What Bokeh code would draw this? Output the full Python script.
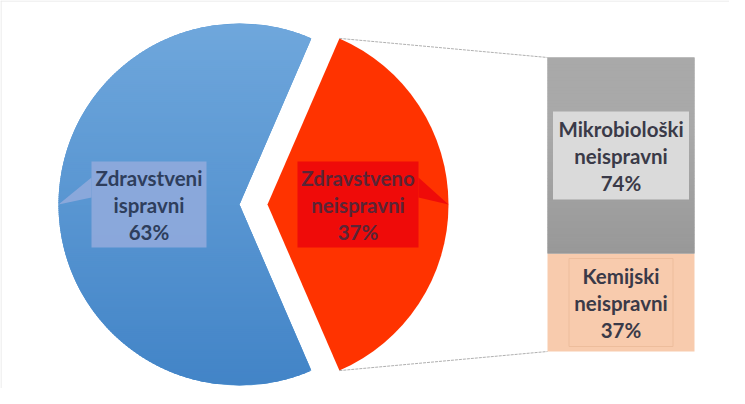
import math
from bokeh.plotting import figure
from bokeh.models import Range1d, Span
from bokeh.core.properties import value
from bokeh.embed import file_html
from bokeh.resources import INLINE

# ---------------- data ----------------
pie_categories = ["Zdravstveni ispravni", "Zdravstveno neispravni"]
pie_values = [63, 37]
pie_label_lines = [["Zdravstveni", "ispravni"], ["Zdravstveno", "neispravni"]]

bar_categories = ["Kemijski neispravni", "Mikrobiološki neispravni"]
bar_values = [37, 74]
bar_label_lines = [["Kemijski", "neispravni"], ["Mikrobiološki", "neispravni"]]

# ---------------- layout / style ----------------
W, H = 729, 388
PIE_CX, PIE_CY, PIE_R = 239, 184, 181
EXPLODE = 28
BAR_LEFT, BAR_RIGHT = 547, 694
BAR_Y0 = 37                 # data y of bar base
BAR_PX_PER_UNIT = 294 / 111

pie_colors = ["#5A9AD5", "#FF3300"]
blue_top, blue_bottom = (0x6F, 0xA7, 0xDC), (0x42, 0x84, 0xC7)
gray_top, gray_bottom = (0xA9, 0xA9, 0xA9), (0x98, 0x98, 0x98)
pie_box_colors = ["#8DA9DB", "#EE0A0A"]
pie_text_colors = ["#2E3E5C", "#5A2536"]
pie_box_w = [115, 121]
bar_colors = ["#F8CBAD", "#A3A3A3"]
bar_box_colors = ["#F8CBAD", "#DADADA"]
bar_box_lines = ["#EDBD9C", None]
bar_box_w = [104, 136]
bar_text_color = "#3A3A48"
FONT = "Lato"
FS = "20.5px"
LINE_GAP = 27


def mix(c0, c1, t):
    return "#%02x%02x%02x" % tuple(int(round(a + (b - a) * t)) for a, b in zip(c0, c1))


p = figure(width=W, height=H, x_range=Range1d(0, W), y_range=Range1d(0, H),
           output_backend="svg", toolbar_location=None, min_border=0,
           x_axis_location=None, y_axis_location=None)
p.grid.visible = False
p.outline_line_color = None
p.background_fill_color = "white"
p.border_fill_color = "white"

# bar scale as an extra range
p.extra_y_ranges = {"bar": Range1d(-BAR_Y0 / BAR_PX_PER_UNIT, (H - BAR_Y0) / BAR_PX_PER_UNIT)}

# faint chart border (top / left)
p.add_layout(Span(location=0.5, dimension="height", line_color="#E6E6E6", line_width=1))
p.add_layout(Span(location=H - 0.5, dimension="width", line_color="#E6E6E6", line_width=1))

# ---------------- pie ----------------
total = sum(pie_values)
half_red = pie_values[1] / total * math.pi
wedges = [
    dict(cx=PIE_CX, start=half_red, end=2 * math.pi - half_red, mid=math.pi),
    dict(cx=PIE_CX + EXPLODE, start=-half_red, end=half_red, mid=0.0),
]
for i, w in enumerate(wedges):
    p.wedge(x=[w["cx"]], y=[PIE_CY], radius=PIE_R, start_angle=[w["start"]], end_angle=[w["end"]],
            fill_color=pie_colors[i], line_color=None)

# vertical gradient shading over the blue slice (bands clipped to the slice shape)
tan_h = math.tan(half_red)


def left_x(dy):
    return -math.sqrt(max(PIE_R ** 2 - dy ** 2, 0.0))


def right_x(dy):
    return min(math.sqrt(max(PIE_R ** 2 - dy ** 2, 0.0)), abs(dy) / tan_h)


NB = 180
xs, ys, cols = [], [], []
for k in range(NB):
    y0 = -PIE_R + 2 * PIE_R * k / NB
    y1 = -PIE_R + 2 * PIE_R * (k + 1) / NB
    a = max(-PIE_R, y0 - 0.45) if abs(y0) > 1e-9 else y0
    b = min(PIE_R, y1 + 0.45) if abs(y1) > 1e-9 else y1
    pts = [(left_x(a), a), (right_x(a), a), (right_x(b), b), (left_x(b), b)]
    xs.append([PIE_CX + px for px, _ in pts])
    ys.append([PIE_CY + py for _, py in pts])
    t = 1 - ((y0 + y1) / 2 + PIE_R) / (2 * PIE_R)   # 0 at top, 1 at bottom
    cols.append(mix(blue_top, blue_bottom, t))
p.patches(xs=xs, ys=ys, fill_color=cols, line_color=None)

# connector lines from the exploded slice to the bar
bar_total = sum(bar_values)
red_cx = wedges[1]["cx"]
top_pt = (red_cx + PIE_R * math.cos(half_red), PIE_CY + PIE_R * math.sin(half_red))
bot_pt = (red_cx + PIE_R * math.cos(-half_red), PIE_CY + PIE_R * math.sin(-half_red))
bar_top_y = BAR_Y0 + bar_total * BAR_PX_PER_UNIT
p.segment(x0=[top_pt[0], bot_pt[0]], y0=[top_pt[1], bot_pt[1]],
          x1=[BAR_LEFT, BAR_LEFT], y1=[bar_top_y, BAR_Y0],
          line_color="#B0B0B0", line_width=1, line_dash="3 1")

# pie labels with callout pointers
for i, w in enumerate(wedges):
    lx = w["cx"] + 0.5 * PIE_R * math.cos(w["mid"])
    ly = PIE_CY + 0.5 * PIE_R * math.sin(w["mid"])
    tipx = w["cx"] + PIE_R * math.cos(w["mid"])
    side = -1 if math.cos(w["mid"]) < 0 else 1
    edge = lx + side * pie_box_w[i] / 2
    p.patch(x=[edge, tipx, edge], y=[ly + 27, PIE_CY, ly + 7],
            fill_color=pie_box_colors[i], line_color=None, fill_alpha=0.95)
    p.rect(x=[lx], y=[ly], width=pie_box_w[i], height=86,
           fill_color=pie_box_colors[i], line_color=None, fill_alpha=0.95)
    pct = f"{round(pie_values[i] / total * 100)}%"
    lines = pie_label_lines[i] + [pct]
    for j, t in enumerate(lines):
        p.text(x=[lx], y=[ly], text=[t], y_offset=(j - 1) * LINE_GAP,
               text_font=value(FONT), text_font_style="bold", text_font_size=FS,
               text_color=pie_text_colors[i], text_align="center", text_baseline="middle")

# ---------------- stacked bar ----------------
bottoms, tops = [], []
acc = 0
for v in bar_values:
    bottoms.append(acc)
    acc += v
    tops.append(acc)
p.quad(left=[BAR_LEFT] * 2, right=[BAR_RIGHT] * 2, bottom=bottoms, top=tops,
       fill_color=bar_colors, line_color=None, y_range_name="bar")

# gradient shading on the grey segment
NG = 60
gb, gt, gc = [], [], []
for k in range(NG):
    b0 = bottoms[1] + bar_values[1] * k / NG
    b1 = bottoms[1] + bar_values[1] * (k + 1) / NG
    gb.append(b0 if k == 0 else b0 - 0.1)
    gt.append(b1)
    gc.append(mix(gray_bottom, gray_top, min(1.0, (k + 0.5) / NG * 1.6)))
p.quad(left=[BAR_LEFT] * NG, right=[BAR_RIGHT] * NG, bottom=gb, top=gt,
       fill_color=gc, line_color=None, y_range_name="bar")

bx = (BAR_LEFT + BAR_RIGHT) / 2
for i, v in enumerate(bar_values):
    my = (bottoms[i] + tops[i]) / 2
    p.rect(x=[bx], y=[my], width=bar_box_w[i], height=88, height_units="screen",
           fill_color=bar_box_colors[i], line_color=bar_box_lines[i], line_width=1,
           y_range_name="bar")
    pct = f"{round(v / 100 * 100)}%"
    lines = bar_label_lines[i] + [pct]
    for j, t in enumerate(lines):
        p.text(x=[bx], y=[my], text=[t], y_offset=(j - 1) * LINE_GAP,
               text_font=value(FONT), text_font_style="bold", text_font_size=FS,
               text_color=bar_text_color, text_align="center", text_baseline="middle",
               y_range_name="bar")

open("out.html", "w").write(file_html(p, INLINE))
